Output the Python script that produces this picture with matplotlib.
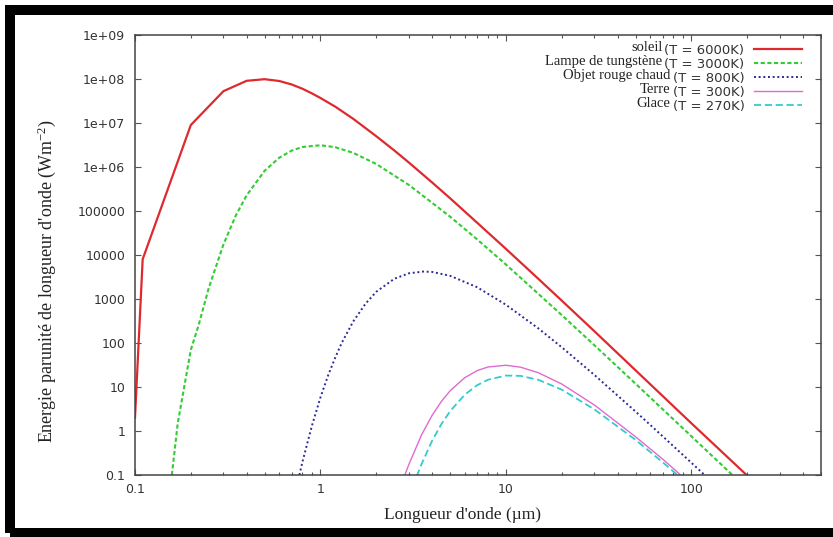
import numpy as np
import matplotlib
matplotlib.use("Agg")
import matplotlib.pyplot as plt
from matplotlib.patches import Rectangle
from matplotlib.ticker import FixedLocator, FixedFormatter, LogLocator, NullLocator, NullFormatter

plt.rcParams["font.family"] = ["DejaVu Sans"]
plt.rcParams["mathtext.fontset"] = "custom"
plt.rcParams["mathtext.rm"] = "Liberation Serif"
plt.rcParams["mathtext.it"] = "Liberation Serif:italic"

# valeurs (longueur d'onde en um, energie en W m-2 um-1)
soleil_x = [0.1, 0.11, 0.2, 0.3, 0.4, 0.5, 0.6, 0.7, 0.8, 0.9, 1.0, 1.2, 1.5, 2, 2.5, 3, 4, 5, 7,
            10, 15, 20, 30, 50, 100, 200, 300]
soleil_y = [2.0, 8.0e3, 9.0e6, 5.3e7, 9.1e7, 9.9e7, 9.0e7, 7.5e7, 6.0e7, 4.7e7, 3.7e7, 2.36e7,
            1.25e7, 5.0e6, 2.38e6, 1.26e6, 4.45e5, 1.95e5, 5.4e4, 1.38e4, 2840, 920, 185, 24,
            1.5, 0.097, 0.019]

tungstene_x = [0.158, 0.17, 0.2, 0.22, 0.25, 0.3, 0.35, 0.4, 0.5, 0.6, 0.7, 0.8, 1.0, 1.2, 1.5,
               2, 3, 5, 7, 10, 20, 30, 50, 100, 200]
tungstene_y = [0.1, 1.5, 70, 250, 1790, 1.75e4, 8.0e4, 2.27e5, 8.2e5, 1.63e6, 2.36e6, 2.85e6,
               3.12e6, 2.82e6, 2.10e6, 1.17e6, 3.9e5, 7.44e4, 2.26e4, 6080, 431, 89, 11.9,
               0.76, 0.048]

rouge_x = [0.77, 0.8, 0.9, 1.0, 1.1, 1.2, 1.3, 1.5, 1.75, 2, 2.5, 3, 3.6, 4, 5, 7, 10, 15, 20,
           30, 50, 70, 100, 120]
rouge_y = [0.1, 0.2, 1.33, 5.8, 18.4, 46, 99, 306, 782, 1460, 2880, 3840, 4210, 4120, 3370,
           1850, 740, 213, 80, 18.8, 2.77, 0.76, 0.19, 0.093]

terre_x = [2.85, 3, 3.5, 4, 4.5, 5, 6, 7, 8, 10, 12, 15, 20, 30, 50, 70, 80, 90]
terre_y = [0.1, 0.175, 0.8, 2.27, 4.77, 8.2, 16.3, 23.6, 28.5, 31.2, 28.2, 21.0, 11.7, 3.9,
           0.74, 0.23, 0.14, 0.09]

glace_x = [3.3, 3.5, 4, 4.5, 5, 6, 7, 8, 10, 12, 15, 20, 30, 50, 70, 80, 90]
glace_y = [0.093, 0.173, 0.6, 1.46, 2.81, 6.7, 11.0, 14.6, 18.2, 17.9, 14.5, 8.7, 3.1, 0.63,
           0.195, 0.12, 0.078]

noms = ["soleil", "Lampe de tungstène", "Objet rouge chaud", "Terre", "Glace"]
temperatures = ["(T = 6000K)", "(T = 3000K)", "(T = 800K)", "(T = 300K)", "(T = 270K)"]

y_ticks = [1e-1, 1, 10, 100, 1e3, 1e4, 1e5, 1e6, 1e7, 1e8, 1e9]
y_tick_labels = ["0.1", "1", "10", "100", "1000", "10000", "100000",
                 "1e+06", "1e+07", "1e+08", "1e+09"]
x_ticks = [0.1, 1, 10, 100]
x_tick_labels = ["0.1", "1", "10", "100"]

W, H = 833, 537
fig = plt.figure(figsize=(W / 100, H / 100), dpi=100)
ax = fig.add_axes([135 / W, 1 - 475 / H, 686 / W, 440 / H])

series = [
    (soleil_x, soleil_y, dict(color="#dd2a2f", lw=1.6, ls="-")),
    (tungstene_x, tungstene_y, dict(color="#33cc33", lw=1.5, ls=(0, (2.0, 1.2)))),
    (rouge_x, rouge_y, dict(color="#2b2b96", lw=1.4, ls=(0, (1.0, 1.4)))),
    (terre_x, terre_y, dict(color="#e06ad0", lw=1.0, ls="-")),
    (glace_x, glace_y, dict(color="#33cccc", lw=1.3, ls=(0, (4.0, 2.0)))),
]
handles = []
for xs, ys, style in series:
    line, = ax.plot(xs, ys, **style)
    handles.append(line)

ax.set_xscale("log")
ax.set_yscale("log")
ax.set_xlim(0.1, 500)
ax.set_ylim(0.1, 1e9)

ax.xaxis.set_major_locator(FixedLocator(x_ticks))
ax.xaxis.set_major_formatter(FixedFormatter(x_tick_labels))
ax.xaxis.set_minor_locator(LogLocator(base=10, subs=np.arange(2, 10)))
ax.xaxis.set_minor_formatter(NullFormatter())
ax.yaxis.set_major_locator(FixedLocator(y_ticks))
ax.yaxis.set_major_formatter(FixedFormatter(y_tick_labels))
ax.yaxis.set_minor_locator(NullLocator())

ax.tick_params(which="both", direction="in", top=True, right=True, color="#555555",
               labelcolor="#333333", labelsize=9)
ax.tick_params(which="major", length=4.5, width=0.8)
ax.tick_params(which="minor", length=2.5, width=0.8)
ax.tick_params(axis="x", pad=6)
ax.tick_params(axis="y", pad=7)
for sp in ax.spines.values():
    sp.set_color("#444444")
    sp.set_linewidth(1.1)

ax.set_xlabel("Longueur d'onde (µm)", family="Liberation Serif", fontsize=12.5, color="#222222")
ax.xaxis.set_label_coords(0.478, -0.072)
ax.set_ylabel("Energie parunité de longueur d'onde (Wm$^{-2}$)", family="Liberation Serif",
              fontsize=13, color="#222222")
ax.yaxis.set_label_coords(-0.112, 0.44)

leg = ax.legend(handles, temperatures, loc="upper right", bbox_to_anchor=(0.972, 0.98),
                frameon=False, markerfirst=False, borderpad=0, borderaxespad=0,
                handlelength=3.6, handletextpad=0.75, labelspacing=0.08,
                prop={"family": "DejaVu Sans", "size": 9.5})
for t in leg.get_texts():
    t.set_color("#333333")

# noms des objets a gauche des temperatures, comme dans gnuplot
fig.canvas.draw()
renderer = fig.canvas.get_renderer()
for t, nom in zip(leg.get_texts(), noms):
    bb = t.get_window_extent(renderer)
    fig.text((bb.x0 - 2) / W, (bb.y0 + 3) / H, nom, ha="right", va="bottom",
             family="Liberation Serif", fontsize=10.5, color="#222222")

# cadre noir autour de l'image
fig.patches.append(Rectangle((10 / W, 4.5 / H), 840 / W, 522.5 / H, fill=False,
                             edgecolor="black", linewidth=7.2, transform=fig.transFigure,
                             figure=fig))

fig.savefig("out.png", dpi=100)
